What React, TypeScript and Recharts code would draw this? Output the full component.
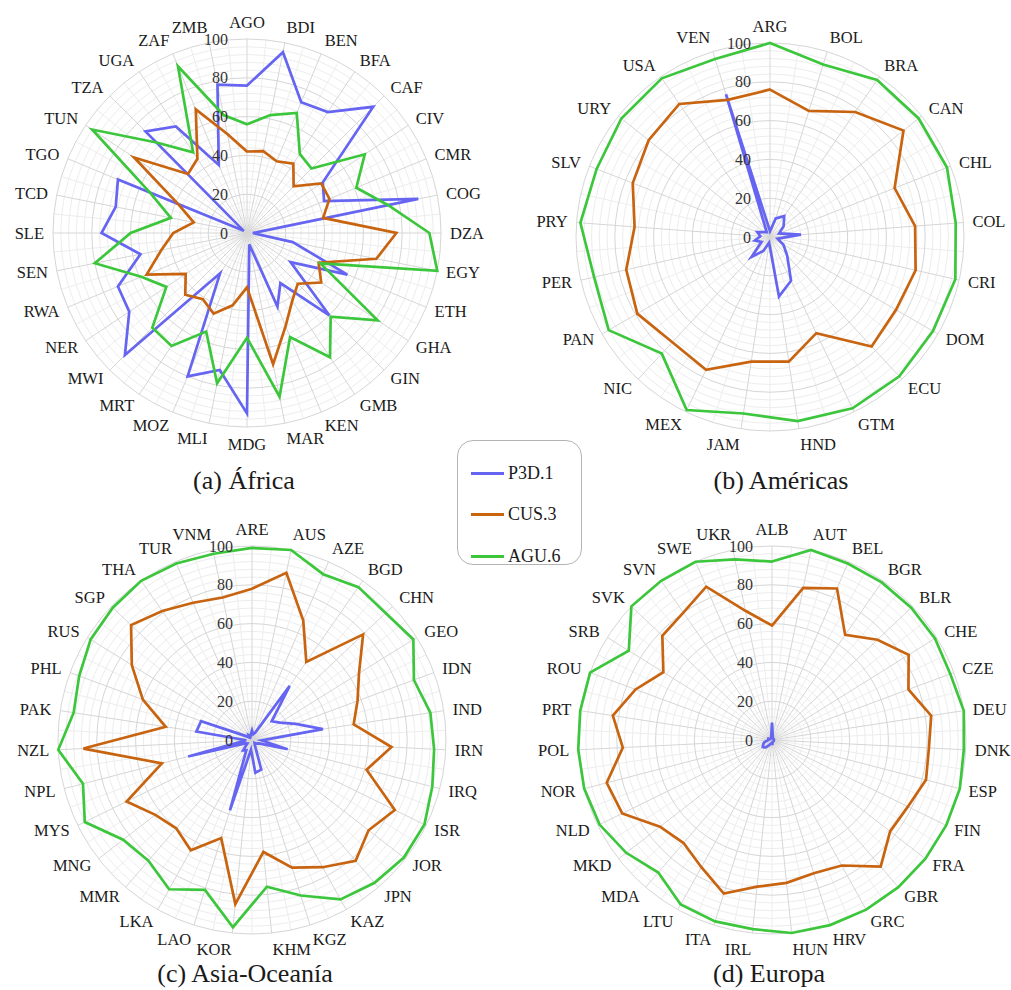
import React from 'react';
import { RadarChart, Radar, PolarGrid, PolarAngleAxis, PolarRadiusAxis } from 'recharts';

// ---- datos (0-100) ----
const AFRICA = ['AGO', 'BDI', 'BEN', 'BFA', 'CAF', 'CIV', 'CMR', 'COG', 'DZA', 'EGY', 'ETH', 'GHA', 'GIN', 'GMB', 'KEN', 'MAR',
  'MDG', 'MLI', 'MOZ', 'MRT', 'MWI', 'NER', 'RWA', 'SEN', 'SLE', 'TCD', 'TGO', 'TUN', 'TZA', 'UGA', 'ZAF', 'ZMB'];
const AFRICA_P3D = [76, 95, 73, 75, 92, 47, 43, 90, 3, 24, 56, 27, 60, 31, 41, 6, 93, 72, 80, 25, 89, 73, 72, 56, 75, 69, 72, 2, 74, 66, 38, 78];
const AFRICA_CUS = [42, 43, 40, 43, 34, 46, 46, 40, 77, 68, 40, 46, 37, 42, 52, 69, 28, 38, 45, 41, 45, 38, 56, 45, 38, 28, 38, 70, 43, 46, 69, 52];
const AFRICA_AGU = [56, 62, 67, 49, 47, 73, 61, 74, 94, 100, 41, 81, 61, 77, 58, 86, 54, 79, 55, 70, 69, 50, 59, 80, 60, 40, 54, 96, 66, 50, 93, 62];

const AMERICAS = ['ARG', 'BOL', 'BRA', 'CAN', 'CHL', 'COL', 'CRI', 'DOM', 'ECU', 'GTM', 'HND', 'JAM', 'MEX', 'NIC', 'PAN', 'PER',
  'PRY', 'SLV', 'URY', 'USA', 'VEN'];
const AMERICAS_P3D = [3, 10, 13, 9, 5, 16, 4, 8, 13, 25, 31, 3, 8, 14, 5, 8, 5, 7, 4, 3, 77];
const AMERICAS_CUS = [76, 68, 78, 88, 69, 75, 77, 75, 77, 55, 65, 65, 76, 74, 79, 76, 70, 76, 80, 83, 74];
const AMERICAS_AGU = [100, 93, 98, 98, 98, 96, 98, 97, 98, 98, 96, 92, 99, 82, 96, 93, 98, 96, 98, 99, 96];

const ASIA = ['ARE', 'AUS', 'AZE', 'BGD', 'CHN', 'GEO', 'IDN', 'IND', 'IRN', 'IRQ', 'ISR', 'JOR', 'JPN', 'KAZ', 'KGZ', 'KHM',
  'KOR', 'LAO', 'LKA', 'MMR', 'MNG', 'MYS', 'NPL', 'NZL', 'PAK', 'PHL', 'RUS', 'SGP', 'THA', 'TUR', 'VNM'];
const ASIA_P3D = [5, 3, 4, 34, 14, 17, 24, 37, 5, 19, 4, 3, 2, 3, 16, 17, 5, 38, 6, 7, 3, 4, 34, 3, 29, 28, 4, 2, 3, 2, 3];
const ASIA_CUS = [78, 88, 67, 49, 79, 65, 58, 53, 72, 61, 82, 76, 82, 75, 69, 58, 85, 53, 65, 60, 63, 72, 48, 87, 45, 60, 73, 86, 81, 77, 75];
const ASIA_AGU = [99, 100, 93, 96, 95, 98, 89, 93, 94, 96, 99, 99, 97, 94, 84, 76, 97, 81, 88, 82, 84, 96, 90, 100, 93, 95, 98, 99, 100, 99, 98];

const EUROPE = ['ALB', 'AUT', 'BEL', 'BGR', 'BLR', 'CHE', 'CZE', 'DEU', 'DNK', 'ESP', 'FIN', 'FRA', 'GBR', 'GRC', 'HRV', 'HUN',
  'IRL', 'ITA', 'LTU', 'MDA', 'MKD', 'NLD', 'NOR', 'POL', 'PRT', 'ROU', 'SRB', 'SVK', 'SVN', 'SWE', 'UKR'];
const EUROPE_P3D = [9, 2, 1, 1, 1, 1, 1, 1, 1, 1, 1, 1, 1, 1, 1, 2, 2, 2, 3, 5, 6, 5, 4, 2, 2, 2, 1, 1, 1, 1, 2];
const EUROPE_CUS = [59, 80, 85, 66, 75, 83, 75, 83, 81, 82, 78, 77, 86, 74, 72, 74, 76, 83, 75, 70, 73, 86, 88, 77, 83, 75, 66, 78, 80, 86, 68];
const EUROPE_AGU = [92, 100, 99, 99, 99, 99, 98, 100, 99, 100, 100, 100, 100, 100, 100, 100, 98, 98, 97, 90, 95, 99, 100, 100, 100, 100, 87, 100, 100, 100, 95];

const RADIUS_TICKS = [0, 20, 40, 60, 80, 100];
const MINOR_STEPS = [4, 8, 12, 16, 24, 28, 32, 36, 44, 48, 52, 56, 64, 68, 72, 76, 84, 88, 92, 96];

const SERIES = [
  { key: 'p3d', name: 'P3D.1', color: '#6565f2' },
  { key: 'cus', name: 'CUS.3', color: '#c8640f' },
  { key: 'agu', name: 'AGU.6', color: '#3cc63c' },
];

const FONT = "'Liberation Serif', 'DejaVu Serif', serif";
const R = 194;

function buildRows(countries: string[], p3d: number[], cus: number[], agu: number[]) {
  return countries.map((c, i) => ({ country: c, p3d: p3d[i], cus: cus[i], agu: agu[i] }));
}

function makeAngleTick(cx: number, cy: number) {
  return (props: any) => {
    const { x, y, payload } = props;
    const dx = x - cx;
    const dy = y - cy;
    const d = Math.hypot(dx, dy) || 1;
    const ux = dx / d;
    const uy = dy / d;
    const rr = 203;
    const anchor = ux > 0.1 ? 'start' : ux < -0.1 ? 'end' : 'middle';
    const extra = (1 - Math.abs(ux)) * 8 * Math.sign(uy);
    return (
      <text x={cx + ux * rr} y={cy + uy * rr + extra} textAnchor={anchor} dominantBaseline="central"
        style={{ fontFamily: FONT }} fontSize={16.5} fill="#1a1a1a">
        {payload.value}
      </text>
    );
  };
}

const RadiusTick = (props: any) => (
  <text x={props.x - 19} y={props.y} textAnchor="end" dominantBaseline="central"
    style={{ fontFamily: FONT }} fontSize={16} fill="#333">
    {props.payload.value}
  </text>
);

interface PanelProps {
  countries: string[];
  p3d: number[];
  cus: number[];
  agu: number[];
  left: number;
  top: number;
  cx: number;
  cy: number;
  title: string;
  titleX: number;
  titleY: number;
}

function Panel({ countries, p3d, cus, agu, left, top, cx, cy, title, titleX, titleY }: PanelProps) {
  const data = buildRows(countries, p3d, cus, agu);
  const n = countries.length;
  const halfAngles = countries.map((_, i) => 90 - (i + 0.5) * 360 / n);
  const minorRadius = MINOR_STEPS.map((v) => (v / 100) * R);

  return (
    <>
      <div style={{ position: 'absolute', left, top, width: 506, height: 495 }}>
        <RadarChart width={506} height={495} data={data} cx={cx} cy={cy} outerRadius={R}
          startAngle={90} endAngle={-270} margin={{ top: 0, right: 0, bottom: 0, left: 0 }}>
          <PolarGrid gridType="circle" polarRadius={minorRadius} polarAngles={halfAngles} stroke="#ededed" />
          <PolarGrid gridType="circle" stroke="#d6d6d6" />
          <PolarAngleAxis dataKey="country" tick={makeAngleTick(cx, cy)} tickLine={false} axisLine={false} />
          <PolarRadiusAxis angle={90} domain={[0, 100]} ticks={RADIUS_TICKS} tick={RadiusTick}
            axisLine={false} tickLine={false} />
          {SERIES.map((s) => (
            <Radar key={s.key} name={s.name} dataKey={s.key} stroke={s.color} strokeWidth={2.7}
              fill="none" fillOpacity={0} dot={false} isAnimationActive={false} />
          ))}
        </RadarChart>
      </div>
      <div style={{
        position: 'absolute', left: titleX - 150, top: titleY - 15, width: 300, textAlign: 'center',
        fontFamily: FONT, fontSize: 26, lineHeight: '30px', color: '#1a1a1a',
      }}>
        {title}
      </div>
    </>
  );
}

function LegendBox() {
  return (
    <div style={{
      position: 'absolute', left: 457, top: 440, width: 125, height: 125, boxSizing: 'border-box',
      border: '1px solid #b4b4b4', borderRadius: 16, background: '#fff',
    }}>
      {SERIES.map((s, i) => (
        <div key={s.key} style={{ position: 'absolute', left: 13, top: 20 + i * 41.7, height: 24, display: 'flex', alignItems: 'center' }}>
          <div style={{ width: 33, height: 3, background: s.color }} />
          <span style={{ marginLeft: 4, fontFamily: FONT, fontSize: 18, color: '#1a1a1a' }}>{s.name}</span>
        </div>
      ))}
    </div>
  );
}

export default function App() {
  return (
    <div style={{ position: 'absolute', left: 0, top: 0, width: 1011, height: 990, background: '#fff', overflow: 'hidden', fontFamily: FONT }}>
      <Panel countries={AFRICA} p3d={AFRICA_P3D} cus={AFRICA_CUS} agu={AFRICA_AGU}
        left={0} top={0} cx={247} cy={233} title="(a) África" titleX={244} titleY={481} />
      <Panel countries={AMERICAS} p3d={AMERICAS_P3D} cus={AMERICAS_CUS} agu={AMERICAS_AGU}
        left={505} top={0} cx={265} cy={237} title="(b) Américas" titleX={781} titleY={481} />
      <Panel countries={ASIA} p3d={ASIA_P3D} cus={ASIA_CUS} agu={ASIA_AGU}
        left={0} top={495} cx={252} cy={245} title="(c) Asia-Oceanía" titleX={245} titleY={974} />
      <Panel countries={EUROPE} p3d={EUROPE_P3D} cus={EUROPE_CUS} agu={EUROPE_AGU}
        left={505} top={495} cx={267} cy={245} title="(d) Europa" titleX={769} titleY={974} />
      <LegendBox />
    </div>
  );
}
